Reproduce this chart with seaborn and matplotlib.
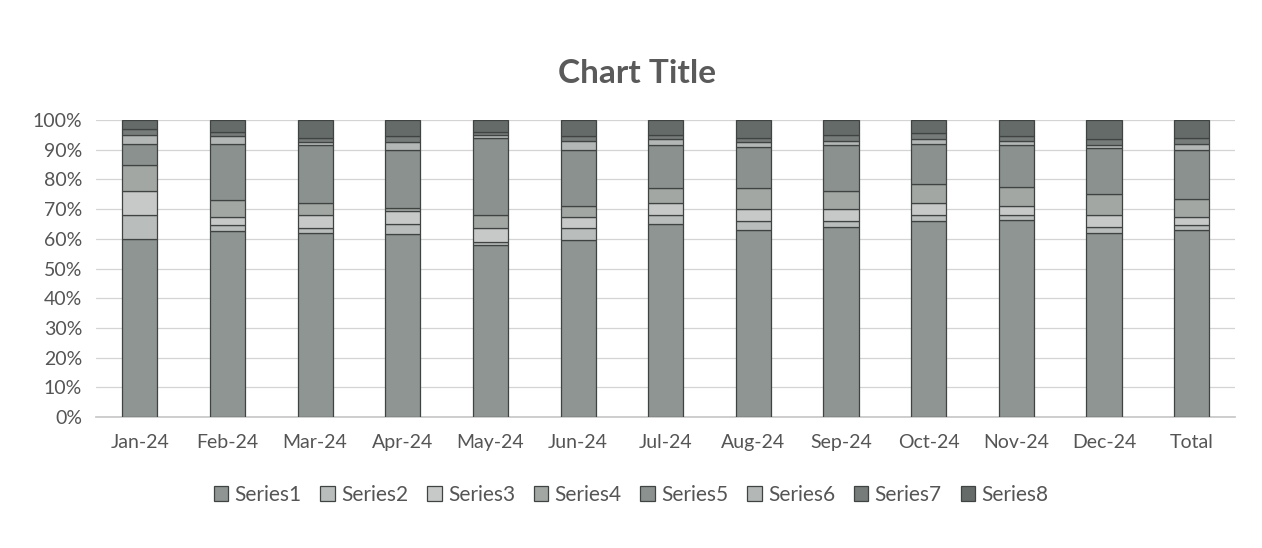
import numpy as np
import pandas as pd
import matplotlib
matplotlib.use("Agg")
import matplotlib.pyplot as plt
import seaborn as sns

categories = ["Jan-24", "Feb-24", "Mar-24", "Apr-24", "May-24", "Jun-24",
              "Jul-24", "Aug-24", "Sep-24", "Oct-24", "Nov-24", "Dec-24", "Total"]
series_names = ["Series1", "Series2", "Series3", "Series4",
                "Series5", "Series6", "Series7", "Series8"]

series1 = [60, 62.5, 62, 61.5, 58, 59.5, 65, 63, 64, 66, 66.5, 62, 63]
series2 = [8, 2, 1.5, 3.5, 1, 4, 3, 3, 2, 2, 1.5, 2, 1.5]
series3 = [8, 3, 4.5, 4.5, 4.5, 4, 4, 4, 4, 4, 3, 4, 3]
series4 = [9, 5.5, 4, 1, 4.5, 3.5, 5, 7, 6, 6.5, 6.5, 7, 6]
series5 = [7, 19, 19.5, 19.5, 26, 19, 14.5, 14, 15.5, 13.5, 14, 15.5, 16.5]
series6 = [3, 2.5, 1, 2.5, 1, 3, 2, 1.5, 1.5, 1.5, 1.5, 1, 2]
series7 = [2, 1.5, 1.5, 2, 1, 1.5, 1.5, 1.5, 2, 2, 1.5, 2, 2]
series8 = [3, 4, 6, 5.5, 4, 5.5, 5, 6, 5, 4.5, 5.5, 6.5, 6]

all_series = [series1, series2, series3, series4, series5, series6, series7, series8]
colors = ["#8f9592", "#b9bdbb", "#c6c9c7", "#a2a7a4", "#8b918e", "#b3b7b5", "#767c79", "#656b68"]

sns.set_theme(style="white")
plt.rcParams["font.family"] = ["Lato", "DejaVu Sans"]

fig = plt.figure(figsize=(12.62, 5.48), dpi=100)
ax = fig.add_axes([0.076, 0.239, 0.903, 0.542])

vals = np.array(all_series, dtype=float)
totals = vals.sum(axis=0)
pct = vals / totals * 100
bottoms = np.vstack([np.zeros(len(categories)), np.cumsum(pct, axis=0)[:-1]])

for i, name in enumerate(series_names):
    df = pd.DataFrame({"cat": categories, "val": pct[i]})
    sns.barplot(data=df, x="cat", y="val", order=categories, color=colors[i],
                width=0.4, bottom=bottoms[i], edgecolor="#3f4442", linewidth=0.9,
                saturation=1, ax=ax, label=name, zorder=3)

handles, labels = ax.get_legend_handles_labels()
if ax.get_legend() is not None:
    ax.get_legend().remove()

ax.set_ylim(0, 100)
ax.set_xlim(-0.5, len(categories) - 0.5)
ax.set_yticks(np.arange(0, 101, 10))
ax.set_yticklabels([f"{v}%" for v in range(0, 101, 10)])
ax.yaxis.grid(True, color="#d4d4d4", linewidth=0.9, zorder=0)
ax.set_axisbelow(True)
for s in ["top", "right", "left"]:
    ax.spines[s].set_visible(False)
ax.spines["bottom"].set_color("#c8c8c8")
ax.tick_params(axis="both", length=0, labelsize=14, colors="#555555")
ax.tick_params(axis="x", pad=12)
ax.tick_params(axis="y", pad=10)
ax.set_xlabel("")
ax.set_ylabel("")

fig.text(0.505, 0.865, "Chart Title", ha="center", va="center",
         fontsize=24, fontweight="bold", color="#5a5a5a")

leg = fig.legend(handles, labels, loc="center", bbox_to_anchor=(0.50, 0.097),
                 ncol=8, frameon=False, fontsize=15, handlelength=0.7,
                 handleheight=0.7, handletextpad=0.3, columnspacing=0.9)
for t in leg.get_texts():
    t.set_color("#555555")

fig.savefig("out.png", dpi=100, facecolor="white")
